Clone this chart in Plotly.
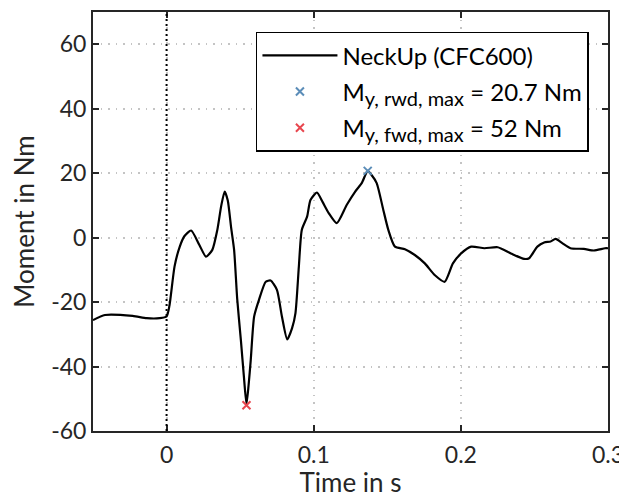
import plotly.graph_objects as go

time_s = [-0.05, -0.0419, -0.023, -0.0135, -0.0047, 0.0, 0.002, 0.0054, 0.0088, 0.0122,
          0.0167, 0.0223, 0.0268, 0.0311, 0.0345, 0.0372, 0.0395, 0.0416, 0.0439, 0.0459,
          0.048, 0.0505, 0.0527, 0.0543, 0.0557, 0.0572, 0.0595, 0.0628, 0.0674, 0.0707,
          0.075, 0.0784, 0.082, 0.0853, 0.0876, 0.0899, 0.0919, 0.0955, 0.0978, 0.1022,
          0.1061, 0.1101, 0.1157, 0.1225, 0.1282, 0.1326, 0.1367, 0.1392, 0.1428, 0.1473,
          0.1507, 0.1552, 0.162, 0.1687, 0.1755, 0.1822, 0.189, 0.1946, 0.2002, 0.207,
          0.216, 0.225, 0.234, 0.243, 0.2464, 0.252, 0.2566, 0.261, 0.2644, 0.2689,
          0.2745, 0.2836, 0.2904, 0.298, 0.3]
moment_nm = [-25.6, -24.0, -24.3, -25.0, -25.0, -24.5, -21.0, -9.0, -3.0, 0.5,
             2.2, -2.3, -5.9, -3.8, 2.4, 10.0, 14.3, 11.5, 3.0, -3.8,
             -19.0, -31.8, -44.0, -51.6, -46.0, -38.0, -24.5, -19.3, -13.7, -13.3,
             -16.2, -24.5, -31.6, -28.1, -23.4, -9.0, 2.4, 6.5, 11.7, 14.0,
             11.0, 7.7, 4.5, 10.2, 14.3, 16.9, 20.7, 19.5, 16.9, 8.6,
             2.4, -2.8, -3.6, -5.4, -8.0, -11.6, -13.7, -8.0, -4.9, -2.8,
             -3.3, -3.0, -4.9, -6.6, -6.4, -2.8, -1.5, -1.2, -0.4, -1.7,
             -3.3, -3.5, -4.0, -3.3, -3.3]

rwd_time = [0.1367]
rwd_value = [20.7]
fwd_time = [0.0543]
fwd_value = [-52.0]

x_ticks = [0, 0.1, 0.2, 0.3]
x_tick_labels = ["0", "0.1", "0.2", "0.3"]
y_ticks = [-60, -40, -20, 0, 20, 40, 60]
y_tick_labels = ["-60", "-40", "-20", "0", "20", "40", "60"]

FONT = "Lato"
TXT = "#262626"
SUB = '<sub><span style="font-size:20px">{}</span></sub>'

fig = go.Figure()
fig.add_trace(go.Scatter(x=time_s, y=moment_nm, mode="lines",
                         line=dict(color="black", width=2.2, shape="spline", smoothing=0.6),
                         name="NeckUp (CFC600)", legendgroup="a"))
fig.add_trace(go.Scatter(x=rwd_time, y=rwd_value, mode="markers",
                         marker=dict(symbol="x-thin", size=8, line=dict(color="#5b8db8", width=2), color="#5b8db8"),
                         name="M" + SUB.format("y, rwd, max") + " = 20.7 Nm", legendgroup="b"))
fig.add_trace(go.Scatter(x=fwd_time, y=fwd_value, mode="markers",
                         marker=dict(symbol="x-thin", size=8, line=dict(color="#e8474f", width=2), color="#e8474f"),
                         name="M" + SUB.format("y, fwd, max") + " = 52 Nm", legendgroup="c"))

fig.add_vline(x=0, line=dict(color="black", width=2, dash="2px,3px"), layer="above")

axis_common = dict(showline=True, linecolor=TXT, linewidth=2, mirror="ticks", ticks="inside", ticklen=6,
                   tickwidth=1.5, tickcolor=TXT, showgrid=True, gridcolor="#c4c4c4", griddash="1.5px,6px",
                   gridwidth=1.5, zeroline=False, automargin=False, ticklabeloverflow="allow",
                   tickfont=dict(family=FONT, size=23, color=TXT))
fig.update_xaxes(range=[-0.05, 0.3], tickvals=x_ticks, ticktext=x_tick_labels, ticklabelstandoff=2,
                 title=dict(text="Time in s", font=dict(family=FONT, size=26, color=TXT), standoff=8), **axis_common)
fig.update_yaxes(range=[-60, 70], tickvals=y_ticks, ticktext=y_tick_labels,
                 title=dict(text="Moment in Nm", font=dict(family=FONT, size=26, color=TXT), standoff=31), **axis_common)

# page body has an 8px margin: figure is placed at (8, 8) in the 627x498 window
fig.update_layout(
    width=619, height=490,
    margin=dict(l=85, r=19, t=4, b=67),
    plot_bgcolor="white", paper_bgcolor="white",
    font=dict(family=FONT, size=24, color="black"),
    legend=dict(x=0.963, y=0.953, xanchor="right", yanchor="top", bgcolor="white",
                bordercolor="black", borderwidth=1.5, font=dict(family=FONT, size=24, color="black"),
                itemwidth=75, tracegroupgap=2),
    showlegend=True,
)

fig.write_html("out.html")
